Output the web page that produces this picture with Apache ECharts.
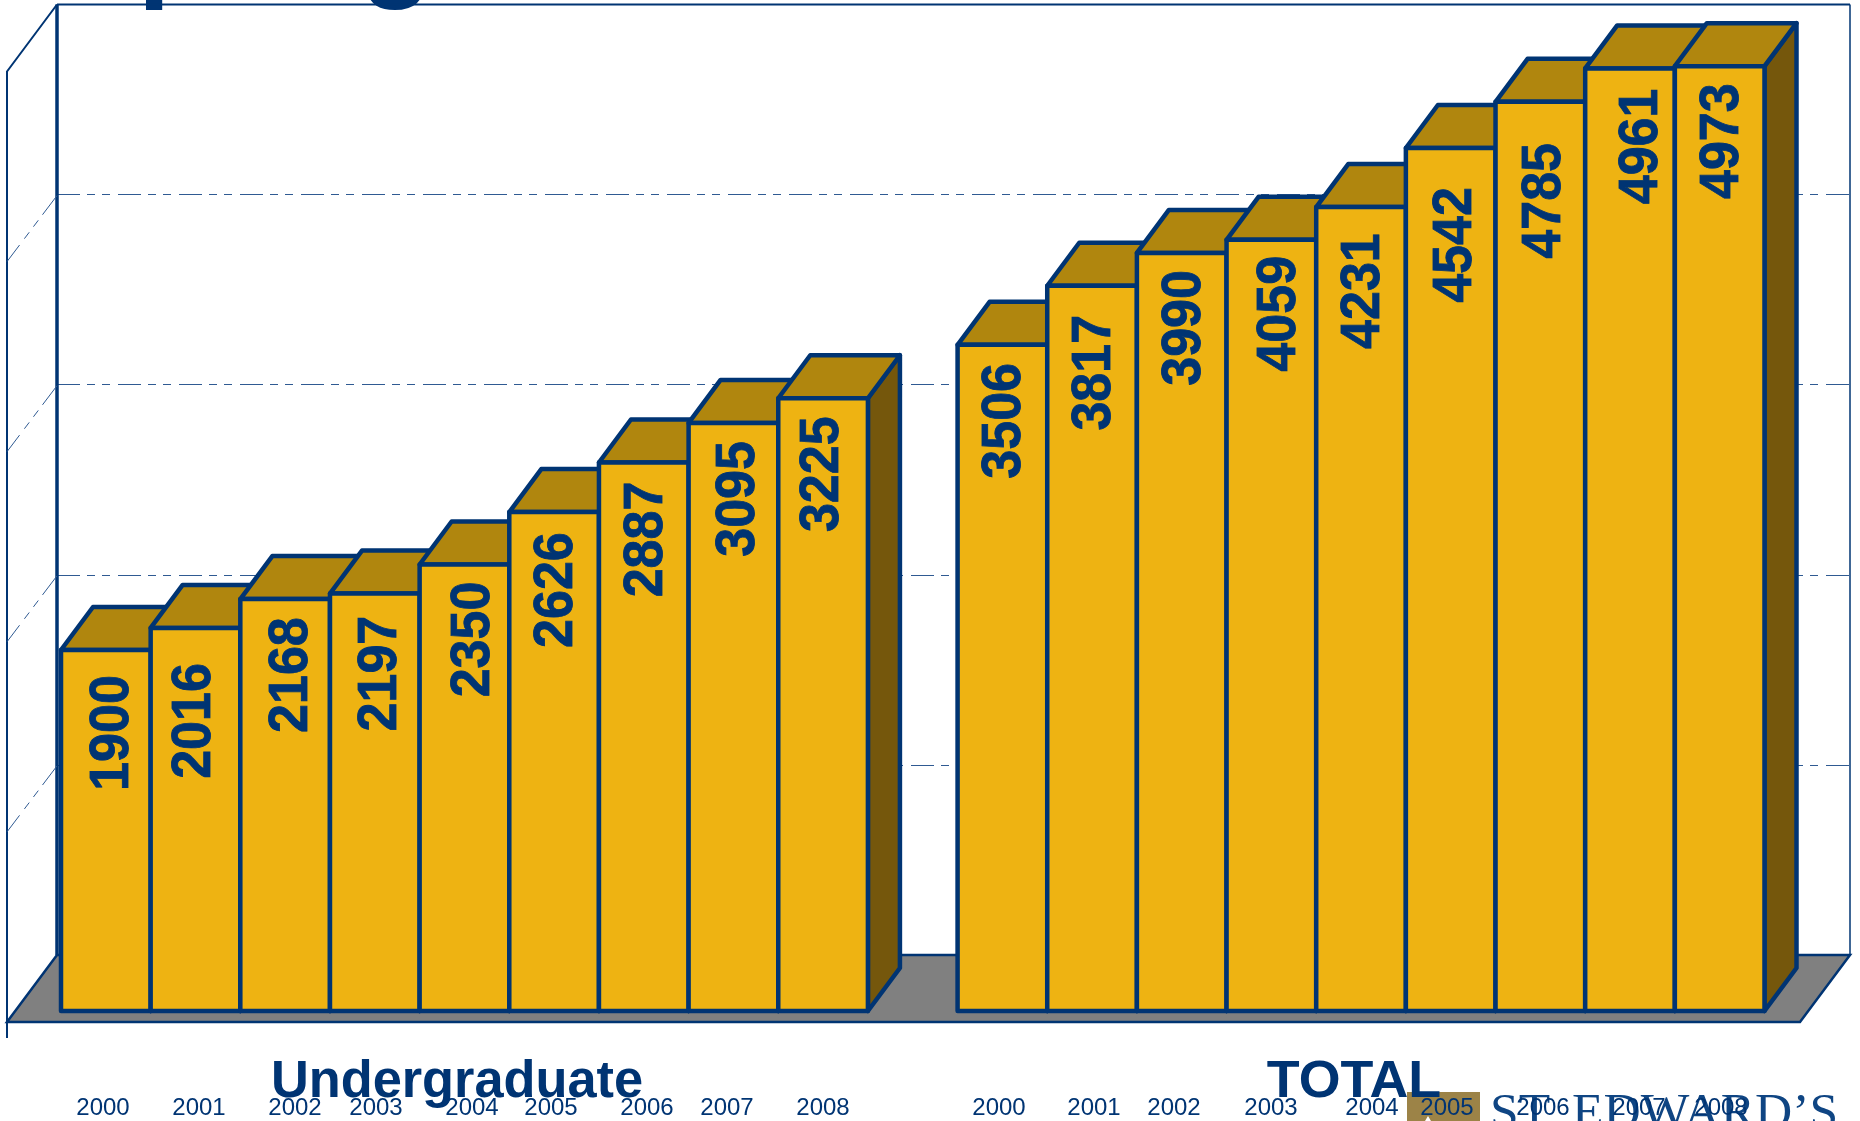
<!DOCTYPE html>
<html><head><meta charset="utf-8">
<style>html,body{margin:0;padding:0;background:#fff}#c{width:1860px;height:1121px}</style>
<script src="https://cdn.jsdelivr.net/npm/echarts@6/dist/echarts.min.js"></script>
</head><body><div id="c"></div>
<script>
// ---- data ----
const years = ['2000','2001','2002','2003','2004','2005','2006','2007','2008'];
const undergraduate = [1900,2016,2168,2197,2350,2626,2887,3095,3225];
const total = [3506,3817,3990,4059,4231,4542,4785,4961,4973];
const groupNames = ['Undergraduate','TOTAL'];
const wallTicks = [1000,2000,3000,4000];
// ---- layout (pixels), not data ----
const NAVY='#003473', FRONT='#EEB312', TOP='#B0860E', SIDE='#75570C', FLOOR='#808080';
const depthX=32, depthY=43, drop=56, sideX=50, sideY=67;
const labelNudgeX=[7,-1,7,6,9,3,3,6,0, 0, 3,3,3,9,3,5,5,12,3];
const labelNudgeY=[26,36,19,23,18,21,20,19,19, 0, 19,30,18,17,27,40,42,21,18];
const yearLabelX=[103,199,295,376,472,551,647,727,823, 999,1094,1174,1271,1372,1447,1543,1639,1721];

const slots = years.concat([''], years);
const barData = undergraduate.map((v,i)=>[i,v]).concat(total.map((v,i)=>[i+10,v]));

function renderBar(params, api){
  const slot=api.value(0), v=api.value(1);
  const a=api.coord([slot,v]), b=api.coord([slot,0]);
  const w=api.size([1,0])[0];
  const L=a[0]-w/2, R=a[0]+w/2, T=a[1]+drop, B=b[1]+drop;
  const st={stroke:NAVY,lineWidth:4.5,lineJoin:'round'};
  return {type:'group',children:[
    {type:'polygon',shape:{points:[[R,T],[R+depthX,T-depthY],[R+depthX,B-depthY],[R,B]]},style:{fill:SIDE,...st}},
    {type:'polygon',shape:{points:[[L,T],[L+depthX,T-depthY],[R+depthX,T-depthY],[R,T]]},style:{fill:TOP,...st}},
    {type:'rect',shape:{x:L,y:T,width:w,height:B-T},style:{fill:FRONT,...st}},
    {type:'text',x:a[0]+labelNudgeX[slot],y:T+labelNudgeY[slot]+57,rotation:Math.PI/2,scaleY:1.05,
     style:{text:String(v),fill:NAVY,stroke:NAVY,lineWidth:0.8,font:'bold 52px "Liberation Sans"',align:'center',verticalAlign:'middle'}}
  ]};
}
function renderWalls(params, api){
  const tl=api.coord([0,5000]), bl=api.coord([0,0]), br=api.coord([1,0]), tr=api.coord([1,5000]);
  const kids=[
    {type:'polygon',shape:{points:[[bl[0],bl[1]],[br[0],br[1]],[br[0]-sideX,br[1]+sideY],[bl[0]-sideX,bl[1]+sideY]]},
     style:{fill:FLOOR,stroke:NAVY,lineWidth:2.5,lineJoin:'miter'}},
    {type:'line',shape:{x1:tl[0],y1:tl[1],x2:bl[0],y2:bl[1]},style:{stroke:NAVY,lineWidth:3.5}},
    {type:'line',shape:{x1:tl[0],y1:tl[1],x2:tr[0],y2:tr[1]},style:{stroke:NAVY,lineWidth:2}},
    {type:'line',shape:{x1:tr[0],y1:tr[1],x2:br[0],y2:br[1]},style:{stroke:NAVY,lineWidth:1.5}},
    {type:'polyline',shape:{points:[[tl[0],tl[1]],[tl[0]-sideX,tl[1]+sideY],[bl[0]-sideX,bl[1]+sideY+16]]},style:{fill:'none',stroke:NAVY,lineWidth:2}}
  ];
  wallTicks.forEach(t=>{
    const p=api.coord([0,t]);
    kids.push({type:'line',shape:{x1:p[0],y1:p[1]+1,x2:p[0]-sideX,y2:p[1]+sideY},style:{stroke:'#2f5a92',lineWidth:1,lineDash:[24,7,8,7,8,8]}});
  });
  return {type:'group',children:kids};
}
const texts=[
  {type:'text',x:59,y:11.5,style:{text:'Spring',font:'bold 118px "Liberation Sans"',fill:NAVY,textAlign:'left',textVerticalAlign:'bottom'},z:1},
  {type:'rect',shape:{x:1407,y:1092,width:73,height:29},style:{fill:'#9C8347'},z:1},
  {type:'polygon',shape:{points:[[1428,1116],[1425,1121],[1431,1121]]},style:{fill:'#fff'},z:1},
  {type:'text',x:1490,y:1140,style:{text:'ST. EDWARD\u2019S',font:'51.5px "Liberation Serif"',fill:'#0f4583',textAlign:'left',textVerticalAlign:'bottom'},z:1},
  {type:'text',x:457,y:1108,scaleX:1.026,style:{text:groupNames[0],font:'bold 51px "Liberation Sans"',fill:NAVY,textAlign:'center',textVerticalAlign:'bottom'},z:2},
  {type:'text',x:1354,y:1108,scaleX:1.055,style:{text:groupNames[1],font:'bold 51px "Liberation Sans"',fill:NAVY,textAlign:'center',textVerticalAlign:'bottom'},z:2}
];
years.concat(years).forEach((y,i)=>texts.push({type:'text',x:yearLabelX[i],y:1120,
  style:{text:y,font:'24px "Liberation Sans"',fill:NAVY,textAlign:'center',textVerticalAlign:'bottom'},z:3}));

const chart=echarts.init(document.getElementById('c'),null,{renderer:'canvas'});
chart.setOption({
  animation:false,backgroundColor:'#fff',
  grid:[
    {left:61,top:5,width:1703.5,height:950},
    {left:57,top:4.5,width:1793,height:950.5}
  ],
  xAxis:[
    {type:'category',gridIndex:0,data:slots,show:false,boundaryGap:true},
    {type:'value',gridIndex:1,min:0,max:1,show:false}
  ],
  yAxis:[
    {type:'value',gridIndex:0,min:0,max:5000,interval:1000,show:false},
    {type:'value',gridIndex:1,min:0,max:5000,interval:1000,
     axisLine:{show:false},axisTick:{show:false},axisLabel:{show:false},
     splitLine:{show:true,showMinLine:false,showMaxLine:false,lineStyle:{color:'#2f5a92',width:1,type:[23,7,8,7,8,8]}}}
  ],
  series:[
    {type:'custom',name:'walls',xAxisIndex:1,yAxisIndex:1,clip:false,silent:true,data:[[0,0]],renderItem:renderWalls,z:1},
    {type:'custom',name:'enrollment',xAxisIndex:0,yAxisIndex:0,clip:false,data:barData,encode:{x:0,y:1},renderItem:renderBar,z:2}
  ],
  graphic:texts
});
</script></body></html>
